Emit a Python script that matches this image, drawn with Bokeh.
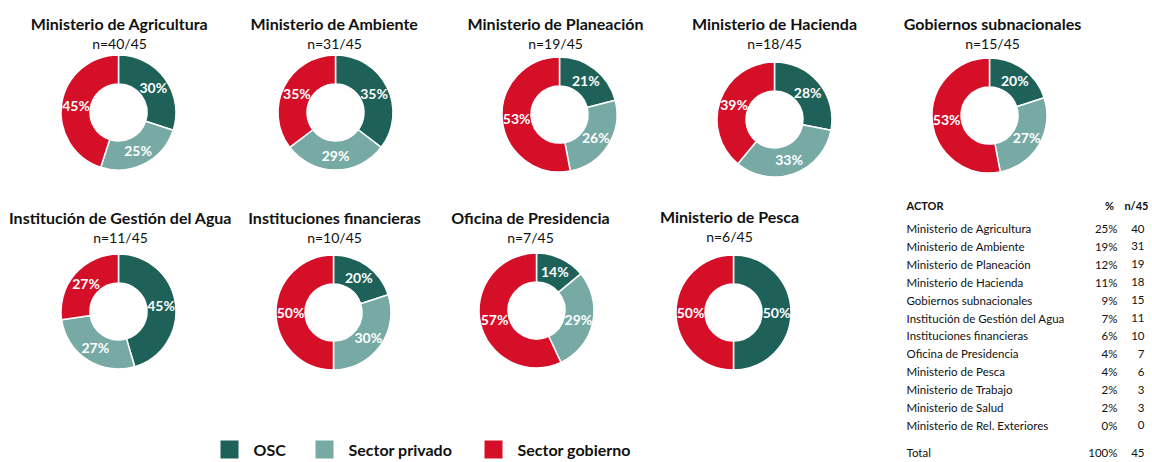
import math
from bokeh.plotting import figure
from bokeh.models import Range1d
from bokeh.core.properties import value
from bokeh.embed import file_html
from bokeh.resources import INLINE

# ---------------- data ----------------
titles = ["Ministerio de Agricultura", "Ministerio de Ambiente", "Ministerio de Planeación",
          "Ministerio de Hacienda", "Gobiernos subnacionales", "Institución de Gestión del Agua",
          "Instituciones financieras", "Oficina de Presidencia", "Ministerio de Pesca"]
n_counts = [40, 31, 19, 18, 15, 11, 10, 7, 6]
total_n = 45
osc = [30, 35, 21, 28, 20, 45, 20, 14, 50]
privado = [25, 29, 26, 33, 27, 27, 30, 29, 0]
gobierno = [45, 35, 53, 39, 53, 27, 50, 57, 50]
series_names = ["OSC", "Sector privado", "Sector gobierno"]
colors = ["#1e6158", "#78aaa5", "#d50f27"]

table_actors = ["Ministerio de Agricultura", "Ministerio de Ambiente", "Ministerio de Planeación",
                "Ministerio de Hacienda", "Gobiernos subnacionales", "Institución de Gestión del Agua",
                "Instituciones financieras", "Oficina de Presidencia", "Ministerio de Pesca",
                "Ministerio de Trabajo", "Ministerio de Salud", "Ministerio de Rel. Exteriores"]
table_pct = [25, 19, 12, 11, 9, 7, 6, 4, 4, 2, 2, 0]
table_n = [40, 31, 19, 18, 15, 11, 10, 7, 6, 3, 3, 0]
table_total_pct = 100
table_total_n = 45

# ---------------- layout (page pixel coords) ----------------
W, H = 1152, 462
def Y(py):
    return H - py

centers = [(118, 112), (335, 112), (559, 114), (774, 119), (989, 115),
           (118, 311), (333, 312), (536, 310), (733, 312)]
title_pos = [(119, 23), (334, 23), (555, 23), (774, 23), (992, 23),
             (120, 217), (334, 217), (530, 217), (729, 216)]
R_OUT, R_IN = 57.5, 28.5
R_LAB = 43

FONT = "Lato"

p = figure(width=W, height=H, x_range=Range1d(0, W), y_range=Range1d(0, H),
           output_backend="svg", toolbar_location=None, x_axis_type=None, y_axis_type=None,
           min_border=0, outline_line_color=None)
p.grid.visible = False
p.background_fill_color = "white"

series = [osc, privado, gobierno]
for i, t in enumerate(titles):
    cx, cy = centers[i]
    vals = [s[i] for s in series]
    tot = float(sum(vals))
    cum = 0.0
    for k, v in enumerate(vals):
        if v <= 0:
            continue
        a0 = math.pi / 2 - 2 * math.pi * cum / tot
        a1 = math.pi / 2 - 2 * math.pi * (cum + v) / tot
        p.annular_wedge(x=[cx], y=[Y(cy)], inner_radius=R_IN, outer_radius=R_OUT,
                        start_angle=[a0], end_angle=[a1], direction="clock",
                        fill_color=colors[k], line_color="white", line_width=1.5)
        mid = math.pi / 2 - 2 * math.pi * (cum + v / 2) / tot
        p.text(x=[cx + R_LAB * math.cos(mid)], y=[Y(cy) + R_LAB * math.sin(mid)],
               text=[f"{v}%"], text_align="center", text_baseline="middle",
               text_font=value(FONT), text_font_size="14px", text_font_style="bold",
               text_color="white")
        cum += v
    tx, ty = title_pos[i]
    p.text(x=[tx], y=[Y(ty)], text=[t], text_align="center", text_baseline="middle",
           text_font=value(FONT), text_font_size="16px", text_font_style="bold",
           text_color="#111111")
    p.text(x=[tx], y=[Y(ty + 20)], text=[f"n={n_counts[i]}/{total_n}"], text_align="center",
           text_baseline="middle", text_font=value(FONT), text_font_size="14px",
           text_color="#111111")

# ---------------- legend ----------------
leg_sq_x = [229, 324, 493]
leg_tx_x = [253, 348, 517]
leg_y = 449
p.rect(x=leg_sq_x, y=[Y(leg_y)] * 3, width=18, height=18, fill_color=colors, line_color=None)
p.text(x=leg_tx_x, y=[Y(leg_y)] * 3, text=series_names, text_align="left",
       text_baseline="middle", text_font=value(FONT), text_font_size="16px",
       text_font_style="bold", text_color="#111111")

# ---------------- table ----------------
tx0, tpct, tn = 906, 1117, 1144
row_y0, row_dy = 228, 17.9
p.text(x=[tx0], y=[Y(205)], text=["ACTOR"], text_align="left", text_baseline="middle",
       text_font=value(FONT), text_font_size="11px", text_font_style="bold", text_color="#111111")
p.text(x=[tpct - 8], y=[Y(205)], text=["%"], text_align="center", text_baseline="middle",
       text_font=value(FONT), text_font_size="11px", text_font_style="bold", text_color="#111111")
p.text(x=[1148], y=[Y(205)], text=[f"n/{total_n}"], text_align="right", text_baseline="middle",
       text_font=value(FONT), text_font_size="11px", text_font_style="bold", text_color="#111111")
ys = [Y(row_y0 + j * row_dy) for j in range(len(table_actors))]
p.text(x=[tx0] * len(ys), y=ys, text=table_actors, text_align="left", text_baseline="middle",
       text_font=value(FONT), text_font_size="11.5px", text_color="#111111")
p.text(x=[tpct] * len(ys), y=ys, text=[f"{v}%" for v in table_pct], text_align="right",
       text_baseline="middle", text_font=value(FONT), text_font_size="11.5px", text_color="#111111")
p.text(x=[tn] * len(ys), y=ys, text=[str(v) for v in table_n], text_align="right",
       text_baseline="middle", text_font=value(FONT), text_font_size="11.5px", text_color="#111111")
p.text(x=[tx0, tpct, tn], y=[Y(452)] * 3,
       text=["Total", f"{table_total_pct}%", str(table_total_n)], text_align=["left", "right", "right"],
       text_baseline="middle", text_font=value(FONT), text_font_size="11.5px", text_color="#111111")

open("out.html", "w").write(file_html(p, INLINE))
